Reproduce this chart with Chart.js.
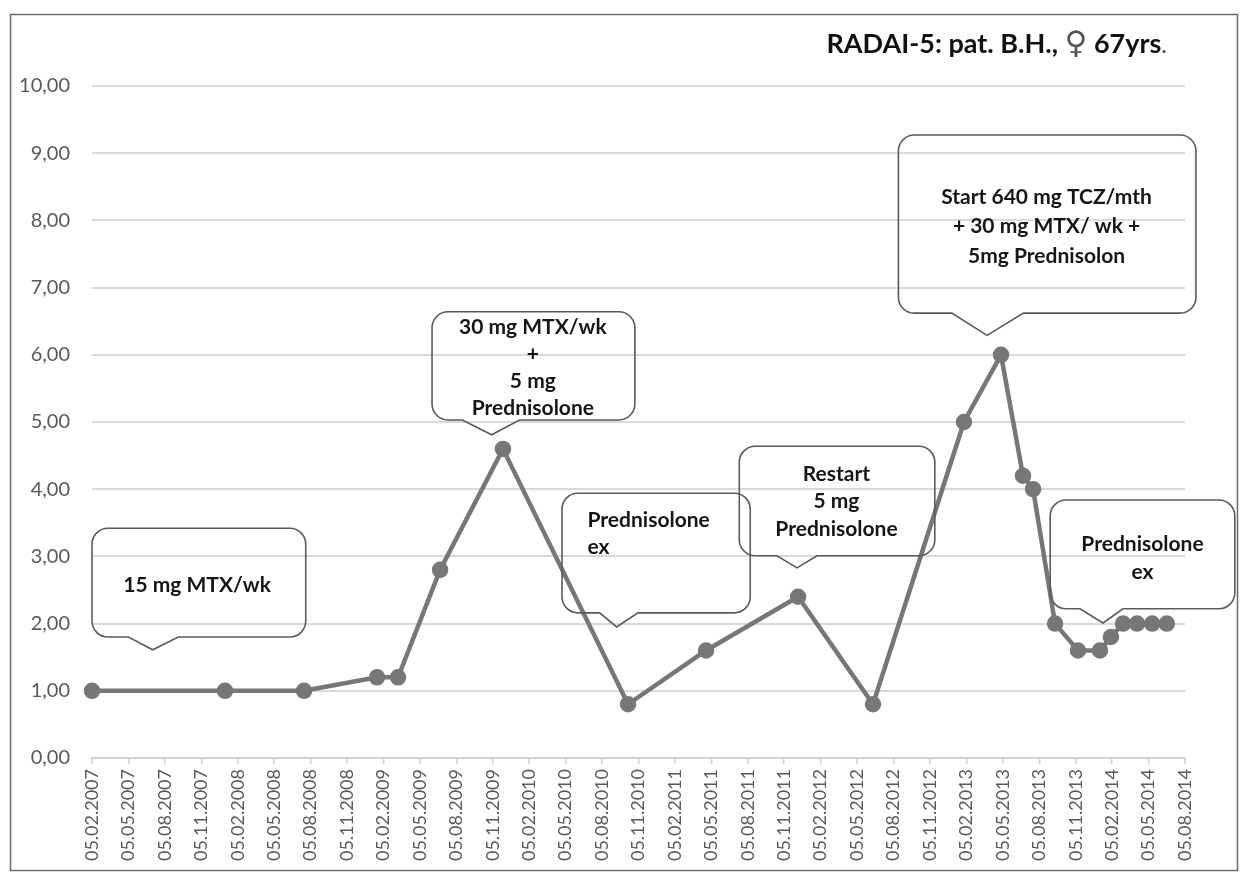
<!DOCTYPE html>
<html>
<head>
<meta charset="utf-8">
<script src="https://cdn.jsdelivr.net/npm/chart.js@4.4.1/dist/chart.umd.min.js"></script>
<style>
  html, body { margin: 0; padding: 0; background: #fff; }
  #wrap { width: 1247px; height: 881px; position: relative; }
</style>
</head>
<body>
<div id="wrap"><canvas id="radaiChart"></canvas></div>
<script>
// months after 05.02.2007
const monthsFromStart = [0, 10.95, 17.46, 23.47, 25.2, 28.66, 33.84, 44.14, 50.56, 58.14, 64.31,
  71.8, 74.85, 76.66, 77.49, 79.3, 81.19, 83.0, 83.9, 84.9, 86.05, 87.3, 88.5];
const radaiScores = [1.0, 1.0, 1.0, 1.2, 1.2, 2.8, 4.6, 0.8, 1.6, 2.4, 0.8,
  5.0, 6.0, 4.2, 4.0, 2.0, 1.6, 1.6, 1.8, 2.0, 2.0, 2.0, 2.0];

const tickDates = [
  "05.02.2007", "05.05.2007", "05.08.2007", "05.11.2007",
  "05.02.2008", "05.05.2008", "05.08.2008", "05.11.2008",
  "05.02.2009", "05.05.2009", "05.08.2009", "05.11.2009",
  "05.02.2010", "05.05.2010", "05.08.2010", "05.11.2010",
  "05.02.2011", "05.05.2011", "05.08.2011", "05.11.2011",
  "05.02.2012", "05.05.2012", "05.08.2012", "05.11.2012",
  "05.02.2013", "05.05.2013", "05.08.2013", "05.11.2013",
  "05.02.2014", "05.05.2014", "05.08.2014"
];

// title pieces: text, font, colour
const titleParts = [
  ["RADAI-5: pat. B.H., ", "bold 27px Lato", "#111"],
  ["\u2640", "31px 'DejaVu Sans'", "#555"],
  [" 67yrs", "bold 27px Lato", "#111"],
  [".", "24px Lato", "#444"]
];

// callout boxes, in axis units (months / score)
const callouts = [
  { lines: ["15 mg MTX/wk"], x0: 0, x1: 17.6, top: 3.42, bottom: 1.80,
    tip: [5.0, 1.61], base: [3.0, 7.1], tx: 8.65, ty: 2.57, align: "center", lh: 27 },
  { lines: ["30 mg MTX/wk", "+", "5 mg", "Prednisolone"], x0: 28.0, x1: 44.7, top: 6.64, bottom: 5.03,
    tip: [32.9, 4.81], base: [30.5, 35.2], tx: 36.3, ty: 6.41, align: "center", lh: 27 },
  { lines: ["Prednisolone", "ex"], x0: 38.7, x1: 54.2, top: 3.94, bottom: 2.16,
    tip: [43.2, 1.95], base: [41.8, 44.95], tx: 40.8, ty: 3.54, align: "left", lh: 27 },
  { lines: ["Restart", "5 mg", "Prednisolone"], x0: 53.3, x1: 69.4, top: 4.64, bottom: 3.01,
    tip: [58.05, 2.83], base: [56.4, 59.7], tx: 61.3, ty: 4.23, align: "center", lh: 27.5 },
  { lines: ["Start 640 mg TCZ/mth", "+ 30 mg MTX/ wk +", "5mg Prednisolon"], x0: 66.4, x1: 90.9, top: 9.27, bottom: 6.62,
    tip: [73.7, 6.29], base: [70.8, 76.7], tx: 78.6, ty: 8.35, align: "center", lh: 29.5 },
  { lines: ["Prednisolone", "ex"], x0: 78.9, x1: 94.1, top: 3.84, bottom: 2.22,
    tip: [83.25, 2.01], base: [81.35, 84.9], tx: 86.5, ty: 3.18, align: "center", lh: 28 }
];

const calloutPlugin = {
  id: "callouts",
  afterDraw(chart) {
    const ctx = chart.ctx;
    const xs = chart.scales.x;
    const ys = chart.scales.y;

    ctx.save();
    // frame around the picture
    ctx.strokeStyle = "#6b6b6b";
    ctx.lineWidth = 1.5;
    ctx.strokeRect(10.5, 14.5, 1227, 856);

    for (const c of callouts) {
      const l = xs.getPixelForValue(c.x0);
      const r = xs.getPixelForValue(c.x1);
      const t = ys.getPixelForValue(c.top);
      const b = ys.getPixelForValue(c.bottom);
      const tipX = xs.getPixelForValue(c.tip[0]);
      const tipY = ys.getPixelForValue(c.tip[1]);
      const bA = xs.getPixelForValue(c.base[0]);
      const bB = xs.getPixelForValue(c.base[1]);
      const rad = 16;

      ctx.beginPath();
      ctx.moveTo(l + rad, t);
      ctx.arcTo(r, t, r, b, rad);
      ctx.arcTo(r, b, l, b, rad);
      ctx.lineTo(bB, b);
      ctx.lineTo(tipX, tipY);
      ctx.lineTo(bA, b);
      ctx.arcTo(l, b, l, t, rad);
      ctx.arcTo(l, t, r, t, rad);
      ctx.closePath();
      ctx.strokeStyle = "#5a5a5a";
      ctx.lineWidth = 1.6;
      ctx.stroke();

      ctx.fillStyle = "#161616";
      ctx.font = "bold 21px Lato";
      ctx.textAlign = c.align;
      ctx.textBaseline = "middle";
      const x = xs.getPixelForValue(c.tx);
      const y = ys.getPixelForValue(c.ty);
      c.lines.forEach((line, i) => ctx.fillText(line, x, y + i * c.lh));
    }

    // title, top right, laid out right to left
    ctx.textAlign = "right";
    ctx.textBaseline = "alphabetic";
    let right = 1167;
    for (let i = titleParts.length - 1; i >= 0; i--) {
      const [txt, font, col] = titleParts[i];
      ctx.font = font;
      ctx.fillStyle = col;
      ctx.fillText(txt, right, 53);
      right -= ctx.measureText(txt).width;
    }
    ctx.restore();
  }
};

new Chart(document.getElementById("radaiChart"), {
  type: "line",
  data: {
    datasets: [{
      label: "RADAI-5",
      data: monthsFromStart.map((m, i) => ({ x: m, y: radaiScores[i] })),
      borderColor: "#777777",
      backgroundColor: "#777777",
      borderWidth: 4.5,
      pointRadius: 6,
      pointHoverRadius: 6,
      tension: 0,
      clip: false
    }]
  },
  options: {
    responsive: true,
    maintainAspectRatio: false,
    animation: false,
    layout: { padding: { left: 10, right: 62, top: 86, bottom: 0 } },
    plugins: {
      legend: { display: false },
      title: { display: false },
      tooltip: { enabled: false }
    },
    scales: {
      x: {
        type: "linear",
        min: 0,
        max: 90,
        afterFit: s => { s.height = 123; },
        afterBuildTicks: s => {
          s.ticks = tickDates.map((d, i) => ({ value: i * 3 }));
        },
        grid: { drawOnChartArea: false, drawTicks: true, tickLength: 6, color: "#d0d0d0", lineWidth: 1.5 },
        border: { display: true, color: "#d0d0d0", width: 1.5 },
        ticks: {
          autoSkip: false,
          maxRotation: 90,
          minRotation: 90,
          padding: 5,
          color: "#595959",
          font: { family: "Lato", size: 18 },
          callback: v => tickDates[Math.round(v / 3)]
        }
      },
      y: {
        min: 0,
        max: 10,
        afterFit: s => { s.width = 82; },
        grid: { color: "#dadada", lineWidth: 2, drawTicks: false },
        border: { display: false },
        ticks: {
          stepSize: 1,
          padding: 22,
          color: "#595959",
          font: { family: "Lato", size: 20 },
          callback: v => v.toFixed(2).replace(".", ",")
        }
      }
    }
  },
  plugins: [calloutPlugin]
});
</script>
</body>
</html>
